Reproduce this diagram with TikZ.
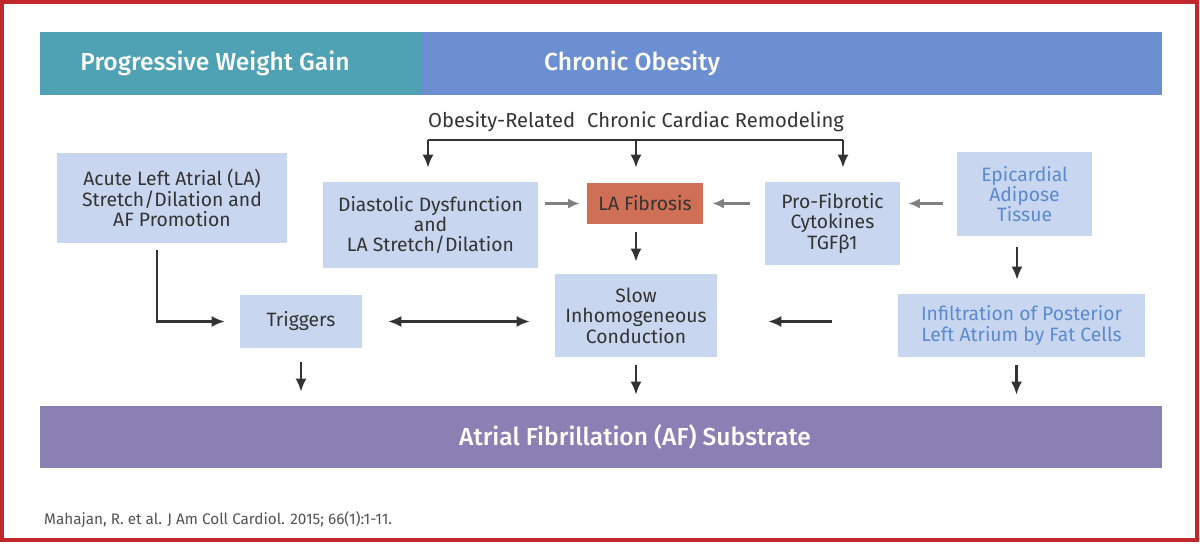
\documentclass[tikz,border=0pt]{standalone}
\usepackage{fontspec}
\setmainfont{Fira Sans}
\newfontfamily\barfont{Fira Sans Medium}
\usetikzlibrary{calc,arrows.meta}

\definecolor{gainteal}{HTML}{4FA2B4}
\definecolor{obesblue}{HTML}{6B8FD0}
\definecolor{boxblue}{HTML}{C9D6EF}
\definecolor{fibrored}{HTML}{CF6F55}
\definecolor{afpurple}{HTML}{8B80B4}
\definecolor{fatblue}{HTML}{5A8AD2}
\definecolor{framered}{HTML}{C1272D}
\definecolor{txtgray}{HTML}{333333}
\definecolor{arrgray}{HTML}{808080}

\begin{document}
\begin{tikzpicture}[x=0.02cm,y=-0.02cm,
  box/.style={fill=boxblue,align=center,inner sep=0pt,text=txtgray,font=\fontsize{11}{11.6}\selectfont},
  bar/.style={minimum height=1.26cm,inner sep=0pt},
  bartext/.style={text=white,inner sep=0pt,font=\barfont\fontsize{14}{16}\selectfont},
  arr/.style={-{Latex[length=2.6mm,width=2.2mm]},line width=1.2pt,txtgray},
  garr/.style={-{Latex[length=2.3mm,width=2mm]},line width=1.2pt,arrgray}]

\useasboundingbox (0,0) rectangle (1200,547);
\draw[framered,line width=2pt] (2,2) rectangle (1197,540);

% banners
\node[bar,fill=gainteal,minimum width=7.64cm,label={[bartext,xshift=-0.32cm]center:Progressive Weight Gain}] (wgain) at (231,63.5) {};
\node[bar,fill=obesblue,minimum width=14.8cm,label={[bartext,xshift=-3.2cm]center:Chronic Obesity}] (obesity) at (792,63.5) {};
\node[bar,fill=afpurple,minimum width=22.44cm,minimum height=1.24cm,label={[bartext,xshift=0.68cm]center:Atrial Fibrillation (AF) Substrate}] (afsub) at (601,437) {};

\node[text=txtgray,font=\fontsize{11.5}{13}\selectfont] (remod) at (636,122) {Obesity-Related\hspace{0.6em}Chronic Cardiac Remodeling};

\node[box,minimum width=4.6cm,minimum height=1.8cm] (acute) at (172,198) {Acute Left Atrial (LA)\\Stretch/Dilation and\\AF Promotion};
\node[box,minimum width=4.3cm,minimum height=1.72cm] (diast) at (430.5,225) {Diastolic Dysfunction\\and\\LA Stretch/Dilation};
\node[box,fill=fibrored,minimum width=2.32cm,minimum height=0.82cm] (fibro) at (645,203.5) {LA Fibrosis};
\node[box,minimum width=2.7cm,minimum height=1.66cm] (cyto) at (832.5,223.5) {Pro-Fibrotic\\Cytokines\\TGFβ1};
\node[box,text=fatblue,minimum width=2.7cm,minimum height=1.68cm] (epi) at (1024.5,194) {Epicardial\\Adipose\\Tissue};
\node[box,minimum width=2.44cm,minimum height=1.06cm] (trig) at (301,321.5) {Triggers};
\node[box,minimum width=3.24cm,minimum height=1.66cm] (slow) at (636,315.5) {Slow\\Inhomogeneous\\Conduction};
\node[box,text=fatblue,minimum width=4.94cm,minimum height=1.26cm] (infil) at (1021.5,325.5) {Infiltration of Posterior\\Left Atrium by Fat Cells};

\node[anchor=west,text=txtgray!85,font=\fontsize{8.7}{10}\selectfont] (cite) at (38,520) {Mahajan, R. et al. J Am Coll Cardiol. 2015; 66(1):1-11.};

% remodeling bracket
\coordinate (brkL) at (428,140);
\coordinate (brkR) at (843,140);
\draw[txtgray,line width=1.2pt] (brkL) -- (brkR);
\draw[arr,shorten >=0.28cm] (brkL) -- (brkL |- diast.north);
\draw[arr,shorten >=0.3cm] (brkL -| slow) -- (fibro.north -| slow);
\draw[arr,shorten >=0.28cm] (brkR) -- (brkR |- cyto.north);

% into fibrosis
\draw[garr,shorten <=0.14cm,shorten >=0.14cm] (diast.east |- fibro) -- (fibro.west);
\draw[garr,shorten <=0.3cm,shorten >=0.18cm] (cyto.west |- fibro) -- (fibro.east);
\draw[garr,shorten <=0.28cm,shorten >=0.16cm] (epi.west |- fibro) -- (cyto.east |- fibro);

\draw[arr,shorten <=0.16cm,shorten >=0.24cm] (fibro.south -| slow) -- (slow.north);
\draw[arr,shorten <=0.22cm,shorten >=0.28cm] ([xshift=-0.15cm]epi.south) -- ([xshift=-0.15cm]epi.south |- infil.north);
\draw[arr,shorten <=0.14cm,shorten >=0.3cm] ([xshift=-0.3cm]acute.south) |- (trig.west);
\draw[arr,{Latex[length=2.6mm,width=2.2mm]}-{Latex[length=2.6mm,width=2.2mm]},shorten <=0.52cm,shorten >=0.5cm] (trig.east) -- (trig.east -| slow.west);
\draw[arr,shorten <=1.32cm,shorten >=1.02cm] (infil.west |- trig) -- (slow.east |- trig);

% down to substrate
\draw[arr,shorten <=0.28cm,shorten >=0.28cm] (trig.south) -- (trig.south |- afsub.north);
\draw[arr,shorten <=0.16cm,shorten >=0.22cm] (slow.south) -- (slow.south |- afsub.north);
\draw[arr,shorten <=0.16cm,shorten >=0.22cm] ([xshift=-0.1cm]infil.south) -- ([xshift=-0.1cm]infil.south |- afsub.north);

\end{tikzpicture}
\end{document}
